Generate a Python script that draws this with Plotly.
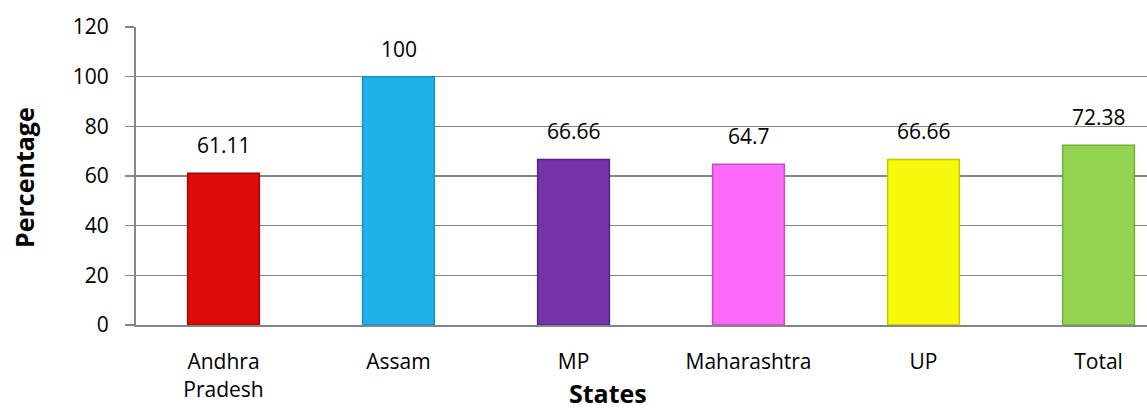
import plotly.graph_objects as go

categories = ["Andhra<br>Pradesh", "Assam", "MP", "Maharashtra", "UP", "Total"]
values = [61.11, 100, 66.66, 64.7, 66.66, 72.38]
value_labels = ["61.11", "100", "66.66", "64.7", "66.66", "72.38"]
colors = ["#DD0A0A", "#1DB2EA", "#7434A8", "#FB6BF7", "#F8F80A", "#92D452"]
line_colors = ["#A00808", "#1890BE", "#55217F", "#C54FC2", "#C8C800", "#73AD3A"]
y_ticks = [0, 20, 40, 60, 80, 100, 120]

FONT = "'Open Sans', Lato, sans-serif"
L, R, W, H = 136, 0, 1147, 410
T, B = 27, 85
pw = W - L - R
ph = H - T - B

fig = go.Figure()
fig.add_trace(go.Bar(
    x=categories, y=values,
    width=0.41,
    marker=dict(color=colors, line=dict(color=line_colors, width=1.5)),
    showlegend=False,
))

for c, v, t in zip(categories, values, value_labels):
    fig.add_annotation(x=c, y=v, text=t, showarrow=False, yanchor="bottom",
                       yshift=12, font=dict(family=FONT, size=21, color="#000"))

# axis titles
fig.add_annotation(xref="paper", yref="paper", x=(608 - L) / pw, y=-(393 - (T + ph)) / ph,
                   yanchor="middle", xanchor="center", showarrow=False,
                   text="<b>States</b>", font=dict(family=FONT, size=25, color="#000"))
fig.add_annotation(xref="paper", yref="paper", x=(24 - L) / pw, y=1 - (178 - T) / ph,
                   yanchor="middle", xanchor="center", showarrow=False, textangle=-90,
                   text="<b>Percentage</b>", font=dict(family=FONT, size=25, color="#000"))

fig.update_layout(
    width=W, height=H,
    margin=dict(l=L, r=R, t=T, b=B, autoexpand=False),
    paper_bgcolor="white", plot_bgcolor="white",
    font=dict(family=FONT, size=21, color="#000"),
    xaxis=dict(range=[-0.5, 5.277], showline=True, linecolor="#868686", linewidth=2,
               showgrid=False, ticks="", tickfont=dict(size=21), fixedrange=True,
               automargin=False, ticklabelstandoff=17),
    yaxis=dict(range=[0, 120], tickvals=y_ticks, showline=True, linecolor="#868686",
               linewidth=2, gridcolor="#868686", gridwidth=1.5, zeroline=False,
               ticks="outside", ticklen=9, tickcolor="#868686", tickwidth=1.5,
               ticklabelstandoff=12, automargin=False, tickfont=dict(size=21)),
)

fig.write_html("out.html",
               config={"displayModeBar": False, "staticPlot": True},
               post_script="document.body.style.margin='0';document.body.style.overflow='hidden';")
